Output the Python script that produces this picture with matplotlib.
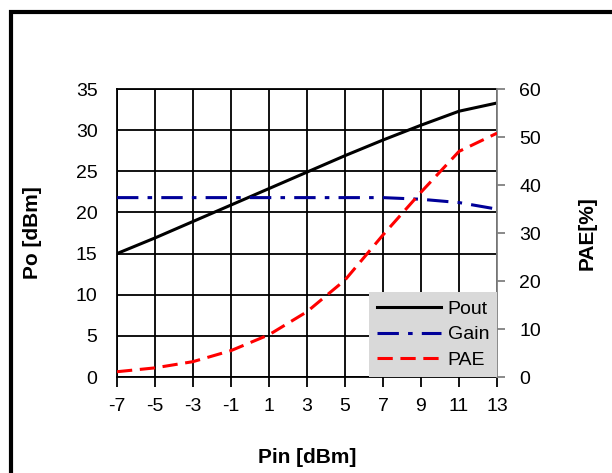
import numpy as np
import matplotlib.pyplot as plt
from matplotlib.patches import Rectangle

plt.rcParams["font.family"] = ["Liberation Sans", "DejaVu Sans"]
plt.rcParams["axes.unicode_minus"] = False

pin  = [-7, -5, -3, -1, 1, 3, 5, 7, 9, 11, 13]
pout = [15.0, 16.9, 18.9, 20.9, 22.9, 24.9, 26.9, 28.8, 30.6, 32.3, 33.3]
gain = [21.8, 21.8, 21.8, 21.8, 21.8, 21.8, 21.8, 21.8, 21.6, 21.2, 20.4]
pae  = [1.1, 1.9, 3.2, 5.5, 8.8, 13.6, 20.2, 29.6, 38.5, 47.0, 50.8]

x_ticks    = list(range(-7, 14, 2))
po_ticks   = list(range(0, 36, 5))
pae_ticks  = list(range(0, 61, 10))


def main():
    fig = plt.figure(figsize=(6.12, 4.73), dpi=100)
    ax = fig.add_axes([117 / 612, 96 / 473, 380 / 612, 288 / 473])
    ax2 = ax.twinx()

    l1, = ax.plot(pin, pout, color="black", lw=2.2, label="Pout", zorder=3)
    l2, = ax.plot(pin, gain, color="#000099", lw=2.2, ls=(0, (7, 3, 1.5, 3)),
                  label="Gain", zorder=3)
    l3, = ax2.plot(pin, pae, color="#ff0000", lw=2.2, ls=(0, (5, 2.5)),
                   label="PAE", zorder=3)

    ax.set_xlim(-7, 13)
    ax.set_ylim(0, 35)
    ax2.set_ylim(0, 60)
    ax.set_xticks(x_ticks)
    ax.set_yticks(po_ticks)
    ax2.set_yticks(pae_ticks)

    ax.grid(True, color="black", lw=1.3)
    ax.set_axisbelow(True)

    for s in ["top", "left", "bottom"]:
        ax.spines[s].set_color("black")
        ax.spines[s].set_linewidth(1.3)
    ax.spines["right"].set_visible(False)
    for s in ["top", "left", "bottom"]:
        ax2.spines[s].set_visible(False)
    ax2.spines["right"].set_color("#808080")
    ax2.spines["right"].set_linewidth(1.3)

    ax.tick_params(axis="y", length=0, pad=14, labelsize=14)
    ax.tick_params(axis="x", length=7, width=1.3, pad=8, labelsize=14, direction="out")
    ax2.tick_params(axis="y", length=6, width=1.3, color="#808080", pad=10,
                    labelsize=14, direction="out")

    fig.text(33 / 612, 1 - 233 / 473, "Po [dBm]", rotation=90, ha="center",
             va="center", fontsize=15, fontweight="bold")
    fig.text(587 / 612, 1 - 233 / 473, "PAE[%]", rotation=90, ha="center",
             va="center", fontsize=15, fontweight="bold")
    fig.text(307 / 612, 1 - 457 / 473, "Pin [dBm]", ha="center",
             va="center", fontsize=15, fontweight="bold")

    leg = ax2.legend(handles=[l1, l2, l3], loc="lower right", fontsize=14,
                     frameon=True, fancybox=False, facecolor="#d9d9d9",
                     edgecolor="none", framealpha=1, borderaxespad=0,
                     handlelength=3.3, handletextpad=0.35, labelspacing=0.42,
                     borderpad=0.4)
    leg.set_zorder(5)

    fig.add_artist(Rectangle((11 / 612, -0.2), 1.2, 1.2 - 12 / 473,
                             transform=fig.transFigure, fill=False,
                             lw=3, edgecolor="black"))

    fig.savefig("out.png", dpi=100)


if __name__ == "__main__":
    main()
